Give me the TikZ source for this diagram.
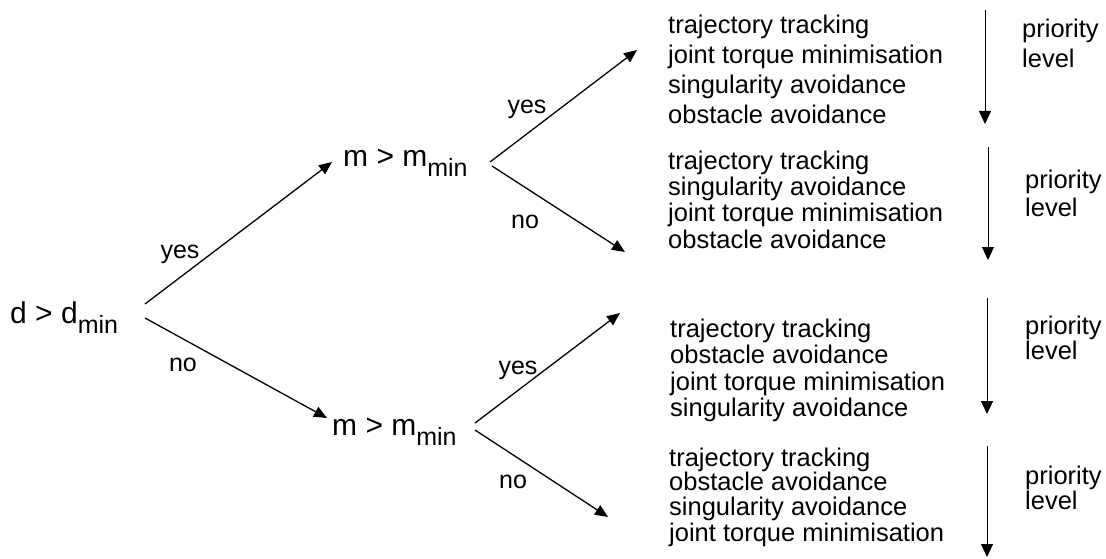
\documentclass[tikz,border=0pt]{standalone}
\usepackage{fontspec}
\setmainfont{Liberation Sans}
\usetikzlibrary{arrows.meta}
\newcommand\mysub[1]{\raisebox{-10pt}{\fontsize{25}{25}\selectfont #1}}
\begin{document}
\begin{tikzpicture}[x=1pt,y=-1pt,
  cond/.style={anchor=base west, inner sep=0pt, font=\fontsize{30}{34}\selectfont},
  lbl/.style={anchor=base, inner sep=0pt, font=\fontsize{25}{29}\selectfont},
  item/.style={anchor=base west, inner sep=0pt, font=\fontsize{25.5}{29}\selectfont},
  branch/.style={line width=1.3pt, -{Triangle[length=13pt,width=11pt]}},
  prio/.style={line width=0.9pt, -{Triangle[length=13pt,width=12pt]}}]
\useasboundingbox (0,0) rectangle (1106,559);

% condition nodes
\node[cond] (d)  at (10,323)  {d > d\mysub{min}};
\node[cond] (m1) at (343,167) {m > m\mysub{min}};
\node[cond] (m2) at (332,435) {m > m\mysub{min}};

% branch end points
\coordinate (dUp) at (145,304);
\coordinate (dDn) at (145,318);
\coordinate (m1In) at (332,162);
\coordinate (m2In) at (327,418);
\coordinate (m1Up) at (490,162);
\coordinate (m1Dn) at (492,166);
\coordinate (m2Up) at (475,423);
\coordinate (m2Dn) at (475,430);
\coordinate (t1) at (637,50);
\coordinate (t2) at (625,252);
\coordinate (t3) at (620,313);
\coordinate (t4) at (608,517);

\draw[branch] (dUp) -- (m1In);
\draw[branch] (dDn) -- (m2In);
\draw[branch] (m1Up) -- (t1);
\draw[branch] (m1Dn) -- (t2);
\draw[branch] (m2Up) -- (t3);
\draw[branch] (m2Dn) -- (t4);

% yes / no labels
\node[lbl] (y1) at (180,258) {yes};
\node[lbl] (n1) at (183,371) {no};
\node[lbl] (y2) at (527,114) {yes};
\node[lbl] (n2) at (525,228) {no};
\node[lbl] (y3) at (518,374) {yes};
\node[lbl] (n3) at (513,488) {no};

% priority lists
\foreach \t/\y [count=\i] in {trajectory tracking/34, joint torque minimisation/64, singularity avoidance/94, obstacle avoidance/124}
  \node[item] (bA\i) at (668,\y) {\t};
\foreach \t/\y [count=\i] in {trajectory tracking/170, singularity avoidance/196, joint torque minimisation/222, obstacle avoidance/248}
  \node[item] (bB\i) at (668,\y) {\t};
\foreach \t/\y [count=\i] in {trajectory tracking/337, obstacle avoidance/363, joint torque minimisation/390, singularity avoidance/416}
  \node[item] (bC\i) at (670,\y) {\t};
\foreach \t/\y [count=\i] in {trajectory tracking/466, obstacle avoidance/490, singularity avoidance/515, joint torque minimisation/541}
  \node[item] (bD\i) at (669,\y) {\t};

% priority level labels
\node[item] (pA) at (1022,38)  {priority};
\node[item] (lA) at (1022,68)  {level};
\node[item] (pB) at (1025,189) {priority};
\node[item] (lB) at (1025,216) {level};
\node[item] (pC) at (1025,334) {priority};
\node[item] (lC) at (1025,359) {level};
\node[item] (pD) at (1025,484) {priority};
\node[item] (lD) at (1025,509) {level};

% priority arrows
\coordinate (aAs) at (985,10);  \coordinate (aAe) at (985,124);
\coordinate (aBs) at (988,147); \coordinate (aBe) at (988,260);
\coordinate (aCs) at (987,298); \coordinate (aCe) at (987,414);
\coordinate (aDs) at (987,446); \coordinate (aDe) at (987,557);
\draw[prio] (aAs) -- (aAe);
\draw[prio] (aBs) -- (aBe);
\draw[prio] (aCs) -- (aCe);
\draw[prio] (aDs) -- (aDe);
\end{tikzpicture}
\end{document}
